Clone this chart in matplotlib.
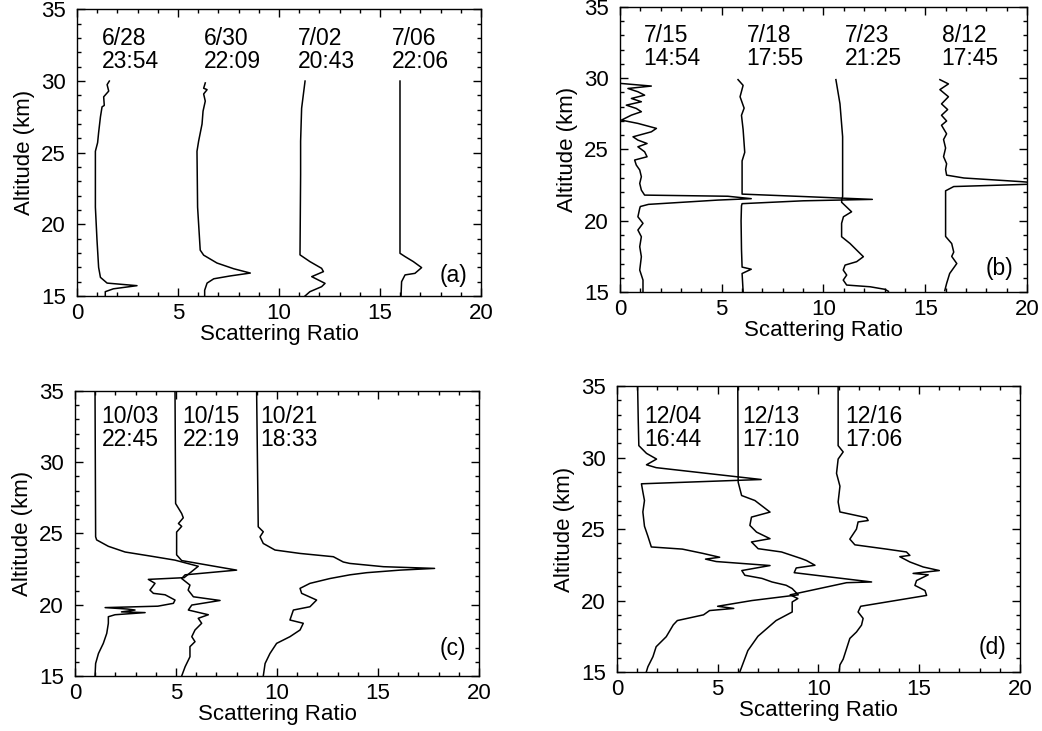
import matplotlib
matplotlib.use("Agg")
import matplotlib.pyplot as plt
from matplotlib.ticker import MultipleLocator

plt.rcParams["font.family"] = ["Liberation Sans", "DejaVu Sans"]
plt.rcParams["font.size"] = 16

# ---- (a) late June / early July ----
z_0628 = [30.0, 29.75, 29.3, 28.9, 28.3, 28.2, 27.5, 26.4, 25.7, 25.1, 21.2, 18.9, 17.0, 16.3, 15.9, 15.72, 15.5, 15.3, 15.0]
r_0628 = [1.6, 1.49, 1.57, 1.32, 1.35, 1.24, 1.16, 1.07, 1.02, 0.91, 0.91, 0.99, 1.07, 1.16, 1.49, 2.97, 1.8, 1.4, 1.4]
z_0630 = [29.87, 29.5, 29.4, 29.1, 28.6, 27.9, 27.0, 25.8, 25.1, 21.2, 18.2, 17.85, 17.3, 16.9, 16.6, 16.4, 16.2, 15.9, 15.4, 15.0]
r_0630 = [6.35, 6.27, 6.44, 6.27, 6.35, 6.24, 6.19, 6.02, 5.94, 5.97, 6.1, 6.27, 6.93, 7.76, 8.58, 7.59, 6.77, 6.44, 6.32, 6.32]
z_0702 = [30.0, 28.1, 25.8, 23.46, 17.87, 17.4, 16.93, 16.7, 16.35, 15.88, 15.65, 15.3, 15.0]
r_0702 = [11.29, 11.12, 11.07, 11.07, 11.04, 11.53, 12.11, 12.2, 11.62, 12.28, 12.11, 11.53, 11.29]
z_0706 = [30.0, 17.98, 17.75, 17.4, 16.98, 16.58, 16.47, 16.0, 15.0]
r_0706 = [15.99, 15.99, 16.24, 16.65, 17.06, 16.73, 16.24, 16.07, 16.04]

# ---- (b) mid July / August ----
z_0715 = [29.63, 29.45, 29.28, 29.05, 28.81, 28.58, 28.35, 28.11, 27.88, 27.65, 27.41, 27.06, 26.83, 26.48,
          26.24, 25.89, 25.66, 25.42, 25.19, 24.84, 24.49, 24.26, 23.91, 23.56, 23.09, 22.62, 22.15, 21.8,
          21.72, 21.55, 21.45, 21.15, 21.0, 20.87, 20.28, 19.82, 19.35, 18.88, 18.18, 17.48, 16.54, 15.84, 15.02]
r_0715 = [0.07, 1.54, 0.39, 0.88, 1.21, 0.56, 1.05, 0.31, 0.8, 1.05, 0.56, 0.07, 0.88, 1.79,
          1.54, 0.64, 0.88, 1.33, 0.88, 1.21, 1.33, 0.72, 0.8, 0.97, 1.05, 0.97, 1.05, 1.21,
          5.3, 6.45, 4.8, 1.4, 1.0, 0.97, 0.88, 1.13, 0.88, 1.05, 0.97, 1.05, 0.97, 1.13, 1.13]
z_0718 = [29.9, 29.5, 28.7, 27.9, 27.4, 26.4, 24.8, 24.2, 22.6, 21.87, 21.7, 21.5, 21.4, 21.2, 21.05, 20.0, 18.0, 16.75, 16.6, 16.3, 15.05]
r_0718 = [5.8, 6.05, 5.9, 6.1, 5.97, 6.05, 6.13, 6.0, 6.0, 6.0, 9.0, 12.4, 9.0, 6.0, 5.97, 5.95, 5.97, 6.0, 6.45, 6.0, 6.05]
z_0723 = [29.9, 28.2, 25.9, 21.7, 21.5, 21.3, 20.63, 20.28, 19.82, 18.88, 18.41, 17.83, 17.48, 17.13, 16.89,
          16.54, 16.19, 15.84, 15.49, 15.37, 15.19, 15.05]
r_0723 = [10.61, 10.81, 10.94, 10.94, 10.9, 10.89, 11.38, 10.98, 10.89, 10.89, 11.3, 11.71, 11.96, 11.63, 11.06,
          10.97, 11.14, 10.97, 11.14, 12.29, 13.02, 13.19]
z_0812 = [29.9, 29.6, 29.2, 28.7, 28.2, 27.8, 27.4, 27.0, 26.7, 26.1, 25.7, 25.1, 24.5, 24.0, 23.6, 23.2, 23.0,
          22.75, 22.6, 22.4, 22.1, 21.3, 18.9, 18.4, 17.8, 17.5, 17.0, 16.3, 15.6, 15.1]
r_0812 = [15.72, 16.14, 15.72, 16.14, 15.8, 16.1, 15.8, 16.05, 15.8, 16.05, 15.9, 16.0, 15.9, 16.05, 16.0, 16.05, 16.9,
          19.66, 21.0, 16.4, 16.0, 16.0, 16.0, 16.3, 16.4, 16.3, 16.55, 16.2, 16.05, 15.96]

# ---- (c) October ----
z_1003 = [35.0, 24.77, 24.55, 24.1, 23.7, 23.4, 23.13, 22.7, 21.9, 21.78, 21.5, 21.03, 20.8, 20.7, 20.33, 20.1,
          19.9, 19.8, 19.7, 19.63, 19.5, 19.45, 19.3, 19.16, 18.7, 17.99, 17.29, 16.58, 15.88, 15.0]
r_1003 = [0.99, 1.02, 1.07, 1.65, 2.48, 3.8, 4.95, 6.1, 5.4, 3.63, 3.96, 3.71, 3.88, 4.46, 4.95, 4.87,
          4.1, 1.49, 2.6, 2.97, 2.3, 3.47, 1.98, 1.65, 1.65, 1.57, 1.4, 1.16, 1.02, 0.99]
z_1015 = [35.0, 27.1, 26.4, 26.1, 25.7, 25.5, 25.1, 23.5, 23.1, 22.43, 22.1, 21.84, 21.38, 21.03, 20.56, 20.3,
          19.98, 19.63, 19.3, 19.05, 18.7, 18.23, 17.76, 17.41, 17.06, 16.35, 15.65, 15.0]
r_1015 = [4.95, 4.98, 5.28, 5.36, 5.12, 5.28, 5.03, 5.03, 5.28, 8.0, 5.45, 5.28, 5.69, 5.6, 5.86, 7.18,
          5.78, 5.61, 6.6, 6.1, 6.27, 5.94, 5.78, 5.94, 5.69, 5.69, 5.45, 5.28]
z_1021 = [35.0, 25.47, 25.12, 24.77, 24.3, 23.84, 23.6, 23.37, 23.0, 22.9, 22.67, 22.55, 22.43, 22.25, 22.1,
          21.84, 21.5, 21.15, 20.8, 20.33, 19.86, 19.63, 18.93, 18.7, 18.23, 17.76, 17.29, 16.58, 15.88, 15.0]
r_1021 = [8.99, 9.07, 9.32, 9.16, 9.32, 9.9, 11.14, 12.79, 13.28, 13.6, 15.27, 17.8, 16.09, 14.44, 13.61,
          12.62, 11.63, 11.14, 11.22, 11.96, 11.63, 10.81, 10.64, 11.3, 11.14, 10.64, 9.98, 9.65, 9.41, 9.32]

# ---- (d) December ----
z_1204 = [35.0, 32.7, 30.84, 30.3, 29.9, 29.5, 29.3, 28.47, 28.17, 27.6, 27.0, 26.2, 25.2, 24.5, 23.75, 23.6,
          23.3, 23.03, 22.9, 22.73, 22.45, 22.1, 21.77, 21.55, 21.3, 21.07, 20.84, 20.4, 20.0, 19.6, 19.45,
          19.3, 19.0, 18.6, 18.3, 17.47, 16.77, 16.07, 15.37, 15.0]
r_1204 = [1.03, 1.06, 1.09, 1.47, 1.97, 1.47, 1.95, 7.16, 1.22, 1.29, 1.37, 1.29, 1.37, 1.54, 1.71, 3.25,
          4.27, 5.1, 4.4, 4.93, 7.6, 6.2, 6.35, 7.2, 7.7, 8.4, 8.7, 9.0, 6.7, 5.0, 5.8,
          4.6, 4.3, 3.0, 2.8, 2.45, 1.95, 1.79, 1.54, 1.46]
z_1213 = [35.0, 28.28, 27.35, 27.0, 26.19, 25.84, 25.26, 24.79, 24.33, 24.1, 23.63, 23.4, 22.93, 22.8, 22.47,
          22.28, 21.95, 21.3, 21.25, 20.4, 20.14, 19.9, 19.2, 18.6, 17.5, 16.5, 15.0]
r_1213 = [6.0, 6.02, 6.19, 6.85, 7.6, 6.68, 6.6, 6.93, 7.6, 6.68, 7.01, 8.17, 9.17, 9.41, 9.83,
          8.9, 8.8, 12.64, 11.4, 8.6, 8.98, 8.7, 8.7, 7.9, 7.0, 6.5, 6.1]
z_1216 = [35.0, 30.84, 30.4, 29.9, 28.9, 28.0, 26.9, 26.2, 25.8, 25.6, 25.5, 25.0, 24.3, 23.9, 23.6, 23.4,
          23.16, 23.07, 22.7, 22.35, 22.1, 21.9, 21.8, 21.4, 21.06, 20.7, 20.36, 19.6, 19.2, 18.75, 18.28,
          17.8, 17.35, 16.6, 15.9, 15.5, 15.0]
r_1216 = [10.98, 10.98, 11.23, 10.98, 10.9, 11.07, 10.98, 11.07, 12.39, 12.47, 11.97, 11.89, 11.56, 11.81, 13.38, 14.37,
          14.54, 14.04, 14.54, 15.2, 16.0, 14.7, 15.45, 14.87, 14.79, 15.29, 15.37, 12.1, 11.97, 12.22, 12.14,
          11.89, 11.56, 11.39, 11.23, 11.07, 11.03]

# date / time tags and where they sit (x in scattering ratio)
tags_a = ["6/28\n23:54", "6/30\n22:09", "7/02\n20:43", "7/06\n22:06"]
tags_b = ["7/15\n14:54", "7/18\n17:55", "7/23\n21:25", "8/12\n17:45"]
tags_c = ["10/03\n22:45", "10/15\n22:19", "10/21\n18:33"]
tags_d = ["12/04\n16:44", "12/13\n17:10", "12/16\n17:06"]
tagx_a = [1.22, 6.29, 10.93, 15.58]
tagx_b = [1.15, 6.22, 11.06, 15.8]
tagx_c = [1.32, 5.33, 9.16]
tagx_d = [1.34, 6.24, 11.32]

panels = [
    ([0.0739, 0.5951, 0.3877, 0.392], [(r_0628, z_0628), (r_0630, z_0630), (r_0702, z_0702), (r_0706, z_0706)],
     tags_a, tagx_a, 32.2, "(a)", 16.4),
    ([0.595, 0.6005, 0.3906, 0.39], [(r_0715, z_0715), (r_0718, z_0718), (r_0723, z_0723), (r_0812, z_0812)],
     tags_b, tagx_b, 32.2, "(b)", 16.65),
    ([0.072, 0.0752, 0.3877, 0.390], [(r_1003, z_1003), (r_1015, z_1015), (r_1021, z_1021)],
     tags_c, tagx_c, 32.4, "(c)", 16.95),
    ([0.592, 0.0807, 0.3868, 0.391], [(r_1204, z_1204), (r_1213, z_1213), (r_1216, z_1216)],
     tags_d, tagx_d, 32.1, "(d)", 16.7),
]

fig = plt.figure(figsize=(10.42, 7.31), dpi=100)

for rect, profs, tags, tagx, tagy, letter, lety in panels:
    ax = fig.add_axes(rect)
    for r, z in profs:
        ax.plot(r, z, color="k", lw=1.1)
    for t, x in zip(tags, tagx):
        ax.text(x, tagy, t, ha="left", va="center", linespacing=1.0, fontsize=16.5)
    ax.text(19.35, lety, letter, ha="right", va="center", fontsize=16.5)

    ax.set_xlim(0, 20)
    ax.set_ylim(15, 35)
    ax.xaxis.set_major_locator(MultipleLocator(5))
    ax.xaxis.set_minor_locator(MultipleLocator(1))
    ax.yaxis.set_major_locator(MultipleLocator(5))
    ax.yaxis.set_minor_locator(MultipleLocator(1))
    ax.tick_params(which="both", direction="in", top=True, right=True, width=1)
    ax.tick_params(which="major", length=6, labelsize=16)
    ax.tick_params(which="minor", length=3)
    ax.tick_params(axis="y", pad=8)
    ax.tick_params(axis="x", pad=5)
    for s in ax.spines.values():
        s.set_linewidth(1.0)
    ax.set_xlabel("Scattering Ratio", fontsize=16, labelpad=0)
    ax.set_ylabel("Altitude (km)", fontsize=16, labelpad=4)

fig.savefig("out.png", dpi=100)
